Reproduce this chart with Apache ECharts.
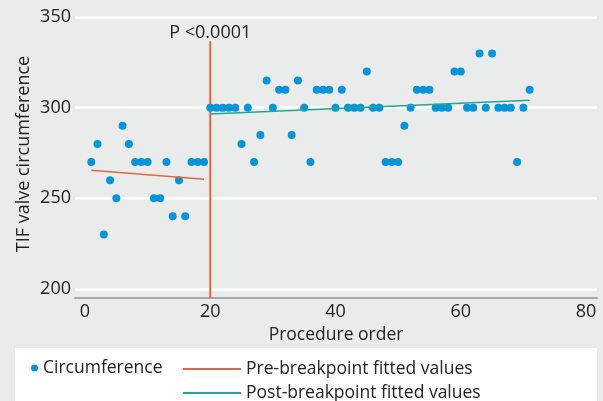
<!DOCTYPE html>
<html><head><meta charset="utf-8">
<script src="https://cdn.jsdelivr.net/npm/echarts@6/dist/echarts.min.js"></script>
<style>html,body{margin:0;padding:0;background:#EAECEC}#c{width:603px;height:401px}</style>
</head><body><div id="c"></div>
<script>
const procedureOrder = [1,2,3,4,5,6,7,8,9,10,11,12,13,14,15,16,17,18,19,20,21,22,23,24,25,26,27,28,29,30,31,32,33,34,35,36,37,38,39,40,41,42,43,44,45,46,47,48,49,50,51,52,53,54,55,56,57,58,59,60,61,62,63,64,65,66,67,68,69,70,71];
const circumference = [270,280,230,260,250,290,280,270,270,270,250,250,270,240,260,240,270,270,270,300,300,300,300,300,280,300,270,285,315,300,310,310,285,315,300,270,310,310,310,300,310,300,300,300,320,300,300,270,270,270,290,300,310,310,310,300,300,300,320,320,300,300,330,300,330,300,300,300,270,300,310];
const preFitX = [1, 19];
const preFitY = [265.5, 260.5];
const postFitX = [20, 71];
const postFitY = [296.5, 304.2];
const breakpointX = 20;
const breakpointTop = 336.8;
const xTicks = [0,20,40,60,80];
const yTicks = [200,250,300,350];
const pLabel = 'P <0.0001';

const font = 'Open Sans';
const yMin = 194.9, yMax = 354;
const legText = {fontSize:17.5, color:'#222', fontFamily:font};
const chart = echarts.init(document.getElementById('c'));
chart.setOption({
  backgroundColor: '#EAECEC',
  animation: false,
  textStyle: {fontFamily: font},
  graphic: [{type:'rect', shape:{x:15, y:348, width:582, height:60}, style:{fill:'#fff'}, z:0}],
  grid: {left:75, right:6, top:10, bottom:103},
  xAxis: {
    type:'value', min:-1.6, max:81.76,
    name:'Procedure order', nameLocation:'middle', nameGap:16,
    nameTextStyle:{fontSize:17.5, color:'#222', fontFamily:font},
    axisLine:{show:true, lineStyle:{color:'#A8A8A8', width:2}},
    axisTick:{show:false, customValues:xTicks},
    axisLabel:{customValues:xTicks, fontSize:18, color:'#222', margin:5, fontFamily:font},
    splitLine:{show:false}
  },
  yAxis: {
    type:'value', min:yMin, max:yMax,
    name:'TIF valve circumference', nameLocation:'middle', nameGap:42, nameMoveOverlap:false,
    nameTextStyle:{fontSize:18, color:'#222', fontFamily:font},
    axisLine:{show:false},
    axisTick:{show:false, customValues:yTicks},
    axisLabel:{customValues:yTicks, fontSize:18, color:'#222', margin:4, fontFamily:font},
    splitLine:{show:true, lineStyle:{color:'#fff', width:2.5}}
  },
  legend: [
    {data:['Circumference'], left:31, top:359, padding:0, icon:'circle', itemWidth:7, itemHeight:7, itemGap:6, textStyle:legText},
    {data:['Pre-breakpoint fitted values'], left:183, top:360, padding:0, icon:'rect', itemWidth:58, itemHeight:2, itemGap:6, textStyle:legText},
    {data:['Post-breakpoint fitted values'], left:183, top:384, padding:0, icon:'rect', itemWidth:58, itemHeight:2, itemGap:6, textStyle:legText}
  ],
  series: [
    {name:'breakpoint', type:'line', data:[[breakpointX, yMin],[breakpointX, breakpointTop]],
     symbol:'none', lineStyle:{color:'#E2663E', width:2}, z:3, silent:true,
     markPoint:{symbol:'circle', symbolSize:0, data:[{coord:[breakpointX, breakpointTop]}],
       label:{show:true, formatter:pLabel, position:'top', distance:-1, fontSize:18, color:'#222', fontFamily:font}}},
    {name:'Circumference', type:'scatter', data:procedureOrder.map((x,i)=>[x, circumference[i]]),
     symbolSize:8, itemStyle:{color:'#0A94D8', opacity:1}, z:4},
    {name:'Pre-breakpoint fitted values', type:'line', data:preFitX.map((x,i)=>[x, preFitY[i]]),
     symbol:'none', lineStyle:{color:'#E2663E', width:1.5}, itemStyle:{color:'#E2663E'}, z:5},
    {name:'Post-breakpoint fitted values', type:'line', data:postFitX.map((x,i)=>[x, postFitY[i]]),
     symbol:'none', lineStyle:{color:'#1BA99A', width:1.5}, itemStyle:{color:'#1BA99A'}, z:5}
  ]
});
</script></body></html>
